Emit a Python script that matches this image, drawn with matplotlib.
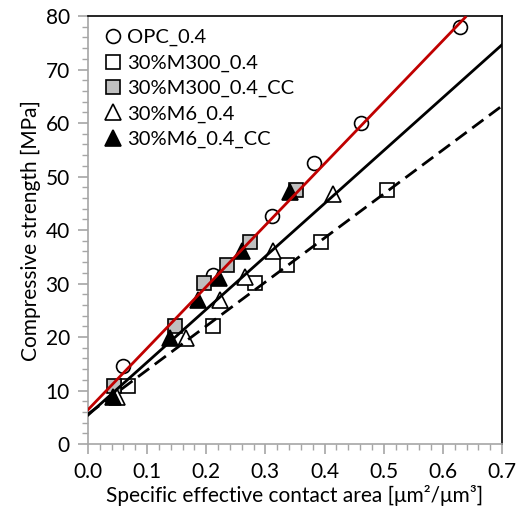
import numpy as np
import matplotlib
matplotlib.use("Agg")
import matplotlib.pyplot as plt
from matplotlib.ticker import MultipleLocator

plt.rcParams['font.family'] = ['Lato', 'DejaVu Sans']

# compressive strength vs specific effective contact area
opc_x = [0.059, 0.212, 0.311, 0.382, 0.462, 0.629]
opc_y = [14.6, 31.6, 42.6, 52.5, 60.0, 78.0]

m300_x = [0.068, 0.212, 0.283, 0.337, 0.394, 0.506]
m300_y = [10.8, 22.1, 30.1, 33.5, 37.8, 47.5]

m300cc_x = [0.044, 0.147, 0.196, 0.235, 0.274, 0.352]
m300cc_y = [10.8, 22.1, 30.1, 33.5, 37.8, 47.5]

m6_x = [0.049, 0.166, 0.223, 0.266, 0.313, 0.415]
m6_y = [8.8, 19.8, 26.9, 31.2, 36.1, 46.7]

m6cc_x = [0.042, 0.139, 0.186, 0.222, 0.260, 0.342]
m6cc_y = [8.8, 19.8, 26.9, 31.0, 36.1, 47.1]

# linear fits: (slope, intercept, x range)
fit_cc = (115.0, 6.4, 0.0, 0.638)
fit_m6 = (98.9, 5.4, 0.0, 0.70)
fit_m300 = (82.3, 5.6, 0.0, 0.70)

fig = plt.figure(figsize=(5.17, 5.17), dpi=100)
ax = fig.add_axes([0.170, 0.141, 0.801, 0.828])

def fit_line(fit, **kw):
    a, b, x0, x1 = fit
    xs = np.array([x0, x1])
    ax.plot(xs, a * xs + b, zorder=3, **kw)

fit_line(fit_m300, color='black', lw=2, ls=(0, (5, 2.5)))
fit_line(fit_m6, color='black', lw=2)
fit_line(fit_cc, color='#c00000', lw=2)

ms = 10
ax.plot(opc_x, opc_y, 'o', ms=ms, mfc='white', mec='black', mew=1.2, label='OPC_0.4', zorder=2)
ax.plot(m300_x, m300_y, 's', ms=ms, mfc='white', mec='black', mew=1.2, label='30%M300_0.4', zorder=2)
ax.plot(m300cc_x, m300cc_y, 's', ms=ms, mfc='#bfbfbf', mec='black', mew=1.2, label='30%M300_0.4_CC', zorder=2)
ax.plot(m6_x, m6_y, '^', ms=ms + 1, mfc='white', mec='black', mew=1.2, label='30%M6_0.4', zorder=2)
ax.plot(m6cc_x, m6cc_y, '^', ms=ms + 1, mfc='black', mec='black', mew=1.2, label='30%M6_0.4_CC', zorder=2)

ax.set_xlim(0, 0.7)
ax.set_ylim(0, 80)
ax.xaxis.set_major_locator(MultipleLocator(0.1))
ax.xaxis.set_minor_locator(MultipleLocator(0.02))
ax.yaxis.set_major_locator(MultipleLocator(10))
ax.yaxis.set_minor_locator(MultipleLocator(2))
ax.xaxis.set_major_formatter(plt.FormatStrFormatter('%.1f'))

for s in ['left', 'bottom']:
    ax.spines[s].set_color('#a6a6a6')
    ax.spines[s].set_linewidth(1.2)
for s in ['top', 'right']:
    ax.spines[s].set_color('black')
    ax.spines[s].set_linewidth(1.2)
ax.tick_params(which='major', length=7, width=1.2, color='#a6a6a6', labelsize=15, pad=6)
ax.tick_params(which='minor', length=4, width=1.0, color='#a6a6a6')

ax.set_xlabel('Specific effective contact area [μm²/μm³]', fontsize=15, labelpad=2)
ax.set_ylabel('Compressive strength [MPa]', fontsize=15, labelpad=3)

ax.legend(loc='upper left', frameon=False, fontsize=14.5, handletextpad=0.1,
          handlelength=1.2, labelspacing=0.4, borderaxespad=0.25,
          bbox_to_anchor=(0.0, 1.0))

fig.savefig('out.png', dpi=100)
